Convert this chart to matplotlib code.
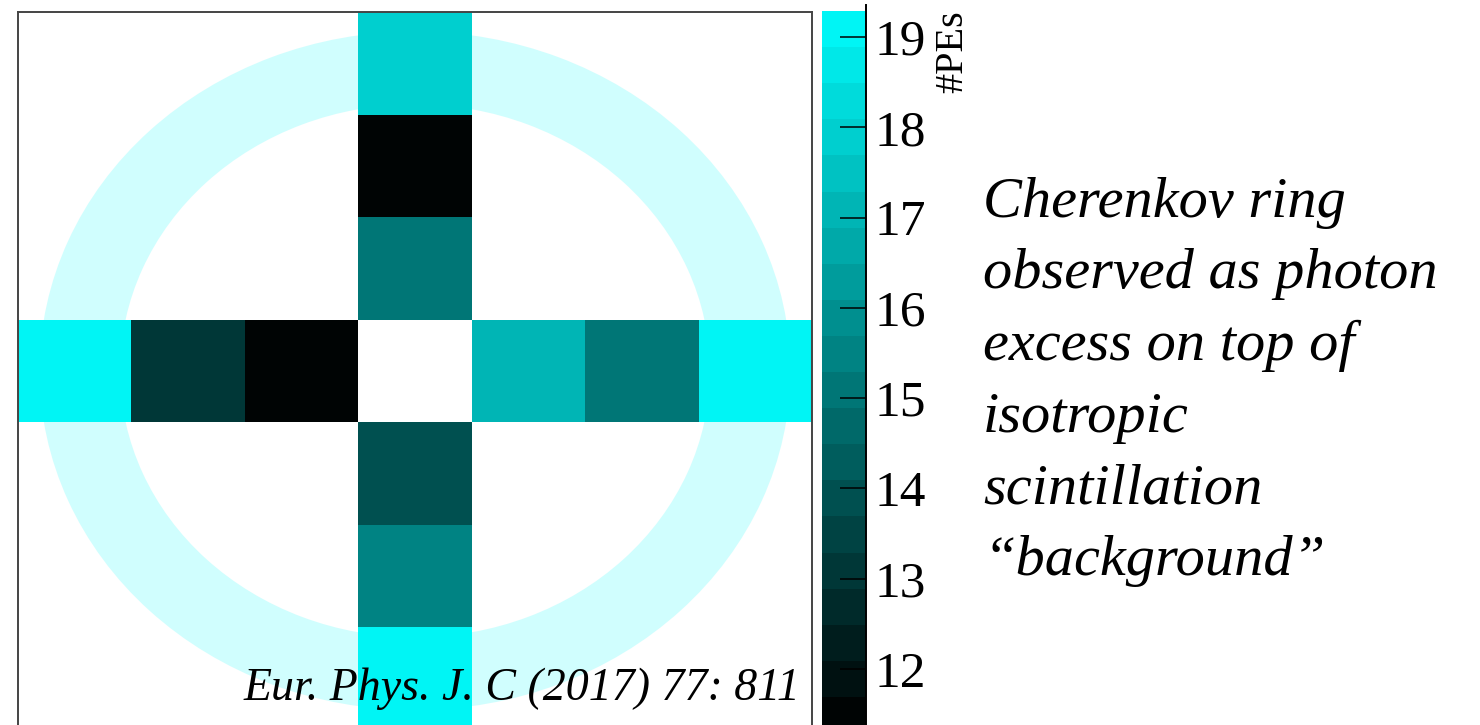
import numpy as np
import matplotlib
matplotlib.use("Agg")
import matplotlib.pyplot as plt
from matplotlib.colors import ListedColormap, BoundaryNorm
from matplotlib.patches import Wedge

plt.rcParams["font.family"] = ["Liberation Serif", "DejaVu Serif"]

# photo-electrons per cube along the vertical and horizontal arms of the cross
# (centre cube is the one the muon passes through, left empty)
vert_pes = [17.9, 11.5, 15.1, np.nan, 13.9, 15.6, 19.1]   # top -> bottom
horiz_pes = [19.1, 13.1, 11.5, np.nan, 17.1, 15.1, 19.1]  # left -> right
ticks = [12, 13, 14, 15, 16, 17, 18, 19]
pe_min, pe_max, n_levels = 11.29, 19.29, 20
ring_r, ring_w = 3.31, 0.71

note = ("Cherenkov ring\nobserved as photon\nexcess on top of\n"
        "isotropic\nscintillation\n\u201cbackground\u201d")
cite = "Eur. Phys. J. C (2017) 77: 811"

n = len(vert_pes)
half = n // 2
grid = np.full((n, n), np.nan)
for i, v in enumerate(vert_pes):
    grid[n - 1 - i, half] = v
for j, v in enumerate(horiz_pes):
    grid[half, j] = v
edges = np.arange(-half - 0.5, half + 1.0, 1.0)

shades = np.linspace(0.015, 0.96, n_levels)
cmap = ListedColormap([(0, s, s) for s in shades])
cmap.set_bad((1, 1, 1, 0))
norm = BoundaryNorm(np.linspace(pe_min, pe_max, n_levels + 1), cmap.N)

fig = plt.figure(figsize=(14.8, 7.25), dpi=100)
ax = fig.add_axes([18 / 1480, -4.5 / 725, 794 / 1480, 717.5 / 725])
ax.add_patch(Wedge((0, 0), ring_r, 0, 360, width=ring_w,
                   facecolor="#d0fefe", edgecolor="none", zorder=0))
mesh = ax.pcolormesh(edges, edges, np.ma.masked_invalid(grid),
                     cmap=cmap, norm=norm, zorder=1)
ax.set_xlim(edges[0], edges[-1])
ax.set_ylim(edges[0], edges[-1])
ax.set_xticks([])
ax.set_yticks([])
for sp in ax.spines.values():
    sp.set_color("#444444")
    sp.set_linewidth(1.4)
    sp.set_zorder(3)

cax = fig.add_axes([822 / 1480, -8 / 725, 44 / 1480, 722 / 725])
cb = fig.colorbar(mesh, cax=cax, ticks=ticks)
cb.outline.set_visible(False)
cax.minorticks_off()
cax.plot([1, 1], [0, 1.008], transform=cax.transAxes, color="black",
         lw=1.4, clip_on=False)
cax.tick_params(direction="in", length=18.5, width=1.1, color="black",
                labelsize=37, pad=6)
cax.set_yticklabels([str(t) for t in ticks])

fig.text(953 / 1480, 1 - 10 / 725, "#PEs", rotation=90, ha="center",
         va="top", fontsize=29)

# multi-line text: baseline alignment refers to the last line
fig.text(983 / 1480, 1 - 575 / 725, note, style="italic", fontsize=42,
         ha="left", va="baseline", linespacing=1.49)
fig.text(800 / 1480, 1 - 700 / 725, cite, style="italic", fontsize=33,
         ha="right", va="baseline", zorder=5)

fig.savefig("out.png", dpi=100)
